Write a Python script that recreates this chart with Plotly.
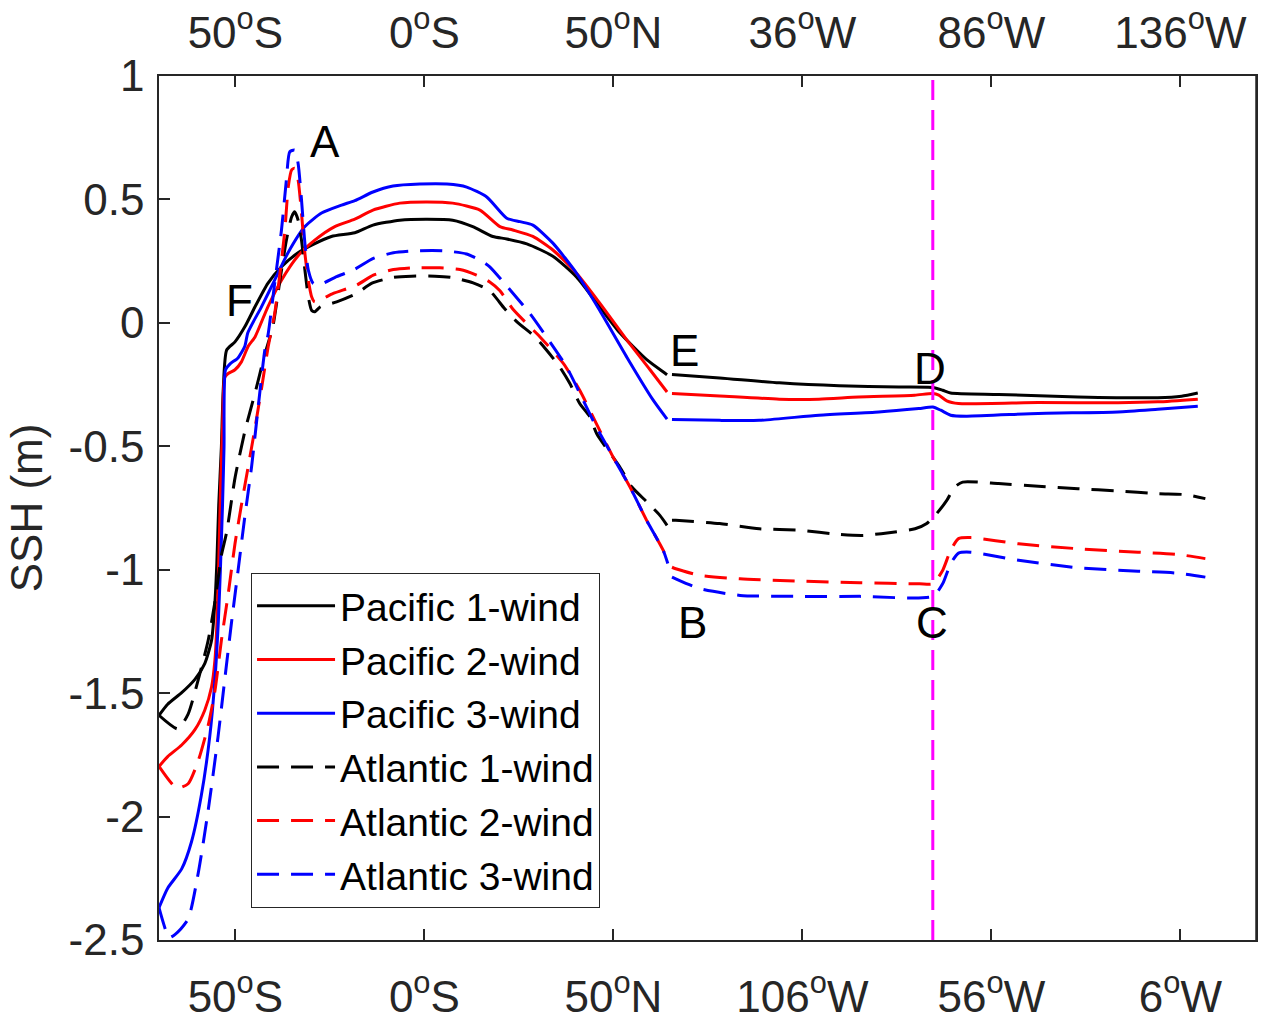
import plotly.graph_objects as go

# ---------------- data (section coordinate, SSH in m) ----------------
# section coordinate: -50 = 50S, 0 = Eq, 50 = 50N, then 100/150/200 along the zonal leg
pac1_x = [-70.2, -67.9, -64.2, -60.7, -58.1, -56.3, -55.4, -54.9, -54.4, -53.7, -53.2, -52.3,
          -50.1, -47.5, -44.8, -41.4, -37.8, -33.5, -29.8, -24.6, -18.4, -13.6, -6.5, 0.7,
          7.5, 12.8, 18.1, 21.8, 27.1, 34.0, 40.3, 46.4, 51.7, 58.9, 63.6, 64.2,
          None,
          65.5, 78.1, 93.9, 109.7, 125.5, 134.5, 137.1, 139.2, 151.9, 172.9, 194.0, 200.3, 204.6]
pac1_y = [-1.59, -1.545, -1.498, -1.444, -1.38, -1.287, -1.13, -0.973, -0.738, -0.503, -0.268, -0.11,
          -0.077, -0.016, 0.065, 0.16, 0.227, 0.283, 0.315, 0.35, 0.365, 0.396, 0.416, 0.42,
          0.416, 0.39, 0.35, 0.34, 0.32, 0.27, 0.185, 0.064, -0.04, -0.15, -0.203, -0.21,
          None,
          -0.209, -0.223, -0.243, -0.255, -0.26, -0.262, -0.273, -0.284, -0.29, -0.30, -0.303, -0.297, -0.284]

pac2_x = [-70.2, -67.9, -64.2, -60.7, -58.1, -56.3, -55.4, -54.9, -54.4, -53.9, -53.4, -52.8,
          -51.9, -50.1, -48.4, -46.6, -44.8, -41.4, -37.8, -33.5, -29.0, -23.7, -18.4, -13.6,
          -6.5, 0.7, 7.5, 14.7, 20.0, 23.4, 28.7, 34.0, 40.3, 46.4, 53.6, 59.7, 64.2,
          None,
          65.5, 78.1, 93.9, 104.4, 114.9, 129.7, 134.5, 136.1, 138.2, 141.3, 162.4, 183.5, 194.0, 204.6]
pac2_y = [-1.797, -1.757, -1.71, -1.648, -1.569, -1.475, -1.365, -1.224, -0.973, -0.66, -0.425, -0.221,
          -0.205, -0.19, -0.158, -0.095, -0.057, 0.065, 0.173, 0.27, 0.335, 0.39, 0.42, 0.457,
          0.485, 0.49, 0.485, 0.457, 0.39, 0.376, 0.35, 0.295, 0.20, 0.08, -0.07, -0.19, -0.28,
          None,
          -0.286, -0.296, -0.309, -0.309, -0.30, -0.293, -0.286, -0.293, -0.316, -0.327, -0.323, -0.324, -0.32, -0.309]

pac3_x = [-70.2, -67.9, -64.2, -61.6, -59.0, -56.8, -55.4, -54.5, -53.9, -53.4, -53.0, -52.6,
          -51.4, -49.3, -47.5, -46.7, -43.1, -39.6, -36.1, -31.6, -27.2, -21.9, -18.4, -13.6,
          -8.3, -1.2, 6.0, 11.2, 16.5, 21.8, 25.3, 28.7, 34.0, 40.3, 46.4, 53.6, 60.4, 64.2,
          None,
          65.5, 78.1, 88.6, 104.4, 120.2, 130.8, 134.5, 136.6, 139.2, 143.4, 162.4, 183.5, 194.0, 204.6]
pac3_y = [-2.369, -2.29, -2.212, -2.102, -1.914, -1.679, -1.444, -1.208, -0.973, -0.738, -0.503, -0.19,
          -0.166, -0.142, -0.095, -0.04, 0.065, 0.173, 0.283, 0.39, 0.445, 0.477, 0.495, 0.53,
          0.554, 0.562, 0.562, 0.55, 0.51, 0.424, 0.41, 0.396, 0.323, 0.20, 0.05, -0.14, -0.31, -0.39,
          None,
          -0.391, -0.395, -0.395, -0.374, -0.361, -0.347, -0.341, -0.354, -0.374, -0.378, -0.367, -0.361, -0.35, -0.338]

atl1_x = [-70.2, -65.2, -62.5, -59.8, -57.2, -55.4, -53.7, -52.3, -50.1, -47.5, -44.8, -42.2,
          -40.1, -38.2, -36.5, -35.1, -34.3, -33.4, -32.5, -31.6, -30.7, -29.8, -29.0, -27.5,
          -23.2, -17.9, -14.0, -8.3, -3.4, 2.8, 7.2, 12.9, 17.3, 21.2, 24.5, 29.3, 32.3, 35.8,
          38.5, 41.1, 43.8, 45.6, 51.7, 54.9, 58.9, 62.3, 64.2,
          None,
          65.5, 66.5, 78.1, 88.6, 99.3, 109.8, 116.1, 122.4, 129.8, 132.9, 135.5, 138.2, 140.3,
          142.4, 151.9, 162.4, 172.9, 183.5, 194.0, 201.4, 206.6]
atl1_y = [-1.59, -1.645, -1.585, -1.444, -1.287, -1.13, -0.942, -0.848, -0.629, -0.44, -0.284, -0.127,
          -0.016, 0.173, 0.335, 0.43, 0.45, 0.416, 0.335, 0.214, 0.105, 0.05, 0.045, 0.065,
          0.085, 0.119, 0.16, 0.184, 0.189, 0.189, 0.184, 0.162, 0.13, 0.058, 0.004, -0.057, -0.11, -0.178,
          -0.246, -0.327, -0.381, -0.449, -0.584, -0.665, -0.726, -0.78, -0.82,
          None,
          -0.80, -0.80, -0.813, -0.834, -0.84, -0.857, -0.861, -0.851, -0.834, -0.813, -0.773, -0.719, -0.665,
          -0.645, -0.651, -0.662, -0.672, -0.681, -0.692, -0.696, -0.712]

atl2_x = [-70.2, -65.5, -62.5, -59.8, -57.2, -55.4, -53.7, -51.9, -50.1, -48.4, -46.6, -44.8,
          -43.1, -41.3, -39.6, -38.2, -36.9, -36.0, -35.1, -34.3, -33.4, -32.5, -31.6, -30.7,
          -29.8, -29.0, -24.1, -17.9, -13.5, -8.2, -3.0, 4.1, 9.4, 13.8, 17.3, 20.0, 23.5, 30.6,
          36.8, 41.1, 45.5, 49.9, 54.4, 58.8, 63.2, 64.4,
          None,
          65.5, 66.5, 72.9, 83.5, 99.3, 115.2, 131.0, 134.5, 137.1, 139.2, 141.3, 144.5, 157.2,
          172.9, 188.8, 199.3, 206.6]
atl2_y = [-1.797, -1.885, -1.867, -1.773, -1.631, -1.49, -1.287, -1.099, -0.895, -0.738, -0.582, -0.425,
          -0.268, -0.095, 0.038, 0.20, 0.376, 0.552, 0.62, 0.626, 0.579, 0.444, 0.281, 0.173,
          0.105, 0.085, 0.119, 0.153, 0.193, 0.216, 0.223, 0.223, 0.216, 0.193, 0.166, 0.13, 0.054, -0.057,
          -0.165, -0.273, -0.408, -0.543, -0.665, -0.80, -0.922, -0.975,
          None,
          -0.99, -0.996, -1.023, -1.037, -1.046, -1.053, -1.057, -1.057, -1.003, -0.922, -0.874, -0.87, -0.895,
          -0.915, -0.929, -0.938, -0.955]

atl3_x = [-70.2, -67.5, -66.0, -62.5, -59.8, -57.2, -54.6, -52.8, -51.1, -49.3, -47.5, -45.7,
          -44.0, -42.2, -41.3, -39.6, -37.8, -36.5, -35.6, -34.3, -33.4, -32.5, -31.6, -30.7,
          -29.4, -28.1, -23.2, -18.8, -13.5, -8.2, -2.0, 5.0, 11.2, 15.5, 17.3, 21.2, 27.9, 32.3,
          37.6, 42.0, 45.5, 49.9, 54.4, 58.8, 63.2, 64.4,
          None,
          65.5, 66.5, 72.9, 83.5, 99.3, 115.2, 134.5, 137.1, 139.2, 141.3, 144.5, 157.2, 172.9,
          188.8, 199.3, 206.6]
atl3_y = [-2.369, -2.49, -2.478, -2.415, -2.227, -1.976, -1.679, -1.444, -1.224, -1.005, -0.785, -0.582,
          -0.346, -0.11, -0.043, 0.16, 0.376, 0.579, 0.693, 0.70, 0.646, 0.498, 0.322, 0.214,
          0.16, 0.153, 0.187, 0.214, 0.261, 0.284, 0.292, 0.292, 0.279, 0.247, 0.227, 0.16, 0.038, -0.057,
          -0.178, -0.313, -0.422, -0.543, -0.665, -0.80, -0.922, -0.975,
          None,
          -1.03, -1.037, -1.077, -1.104, -1.108, -1.108, -1.108, -1.057, -0.976, -0.933, -0.929, -0.962, -0.992,
          -1.006, -1.014, -1.03]

series_names = ["Pacific 1-wind", "Pacific 2-wind", "Pacific 3-wind",
                "Atlantic 1-wind", "Atlantic 2-wind", "Atlantic 3-wind"]

tick_vals = [-50, 0, 50, 100, 150, 200]
bottom_labels = ["50<sup>o</sup>S", "0<sup>o</sup>S", "50<sup>o</sup>N",
                 "106<sup>o</sup>W", "56<sup>o</sup>W", "6<sup>o</sup>W"]
top_labels = ["50<sup>o</sup>S", "0<sup>o</sup>S", "50<sup>o</sup>N",
              "36<sup>o</sup>W", "86<sup>o</sup>W", "136<sup>o</sup>W"]
y_tick_vals = [1, 0.5, 0, -0.5, -1, -1.5, -2, -2.5]
y_tick_text = ["1", "0.5", "0", "-0.5", "-1", "-1.5", "-2", "-2.5"]

marker_x = 134.5  # magenta dashed section marker
point_labels = ["A", "B", "C", "D", "E", "F"]
point_x = [-26.3, 71.0, 134.3, 133.7, 68.9, -48.8]
point_y = [0.733, -1.214, -1.214, -0.184, -0.11, 0.092]

x_range = [-70.2, 220.0]
y_range = [-2.5, 1.0]

# ---------------- figure ----------------
FONT = "Liberation Sans, Arial, Helvetica, sans-serif"
DASH = "22px,12px"
all_x = [pac1_x, pac2_x, pac3_x, atl1_x, atl2_x, atl3_x]
all_y = [pac1_y, pac2_y, pac3_y, atl1_y, atl2_y, atl3_y]
colors = ["black", "#ff0000", "#0000ff", "black", "#ff0000", "#0000ff"]
dashes = ["solid", "solid", "solid", DASH, DASH, DASH]

fig = go.Figure()
for name, xs, ys, c, d in zip(series_names, all_x, all_y, colors, dashes):
    fig.add_trace(go.Scatter(x=xs, y=ys, mode="lines", name=name,
                             line=dict(color=c, width=3, dash=d, shape="spline", smoothing=0.6),
                             connectgaps=False))

# magenta marker line
fig.add_trace(go.Scatter(x=[marker_x, marker_x], y=y_range, mode="lines",
                         line=dict(color="#ff00ff", width=3, dash="20px,10px"),
                         showlegend=False, hoverinfo="skip"))

# dummy trace for top axis
fig.add_trace(go.Scatter(x=x_range, y=[None, None], xaxis="x2", yaxis="y",
                         mode="lines", showlegend=False, hoverinfo="skip"))

for t, px_, py_ in zip(point_labels, point_x, point_y):
    fig.add_annotation(x=px_, y=py_, text=t, showarrow=False,
                       font=dict(family=FONT, size=44, color="black"))

axis_common = dict(showgrid=False, zeroline=False, linecolor="#262626", linewidth=1.5,
                   ticks="inside", ticklen=11, tickwidth=1.5, tickcolor="#262626",
                   automargin=False,
                   tickfont=dict(family=FONT, size=44, color="#262626"))

fig.update_layout(
    width=1267, height=1022,
    margin=dict(l=159, r=11, t=76, b=82),
    paper_bgcolor="white", plot_bgcolor="white",
    xaxis=dict(range=x_range, tickvals=tick_vals, ticktext=bottom_labels,
               mirror=False, showline=True, ticklabelstandoff=17, **axis_common),
    xaxis2=dict(range=x_range, tickvals=tick_vals, ticktext=top_labels,
                overlaying="x", side="top", showline=True, ticklabelstandoff=9, **axis_common),
    yaxis=dict(range=y_range, tickvals=y_tick_vals, ticktext=y_tick_text,
               mirror=True, showline=True, ticklabelstandoff=4,
               title=dict(text="SSH (m)", font=dict(family=FONT, size=44, color="#262626"),
                          standoff=12),
               **axis_common),
    showlegend=True,
    legend=dict(x=0.0839, y=0.4248, xanchor="left", yanchor="top",
                bgcolor="white", bordercolor="#262626", borderwidth=1,
                font=dict(family=FONT, size=39, color="black"),
                itemwidth=78, tracegroupgap=0),
)
# right frame line
fig.add_shape(type="line", xref="paper", yref="paper", x0=1, x1=1, y0=0, y1=1,
              line=dict(color="#262626", width=1.5))

fig.write_html("out.html")
